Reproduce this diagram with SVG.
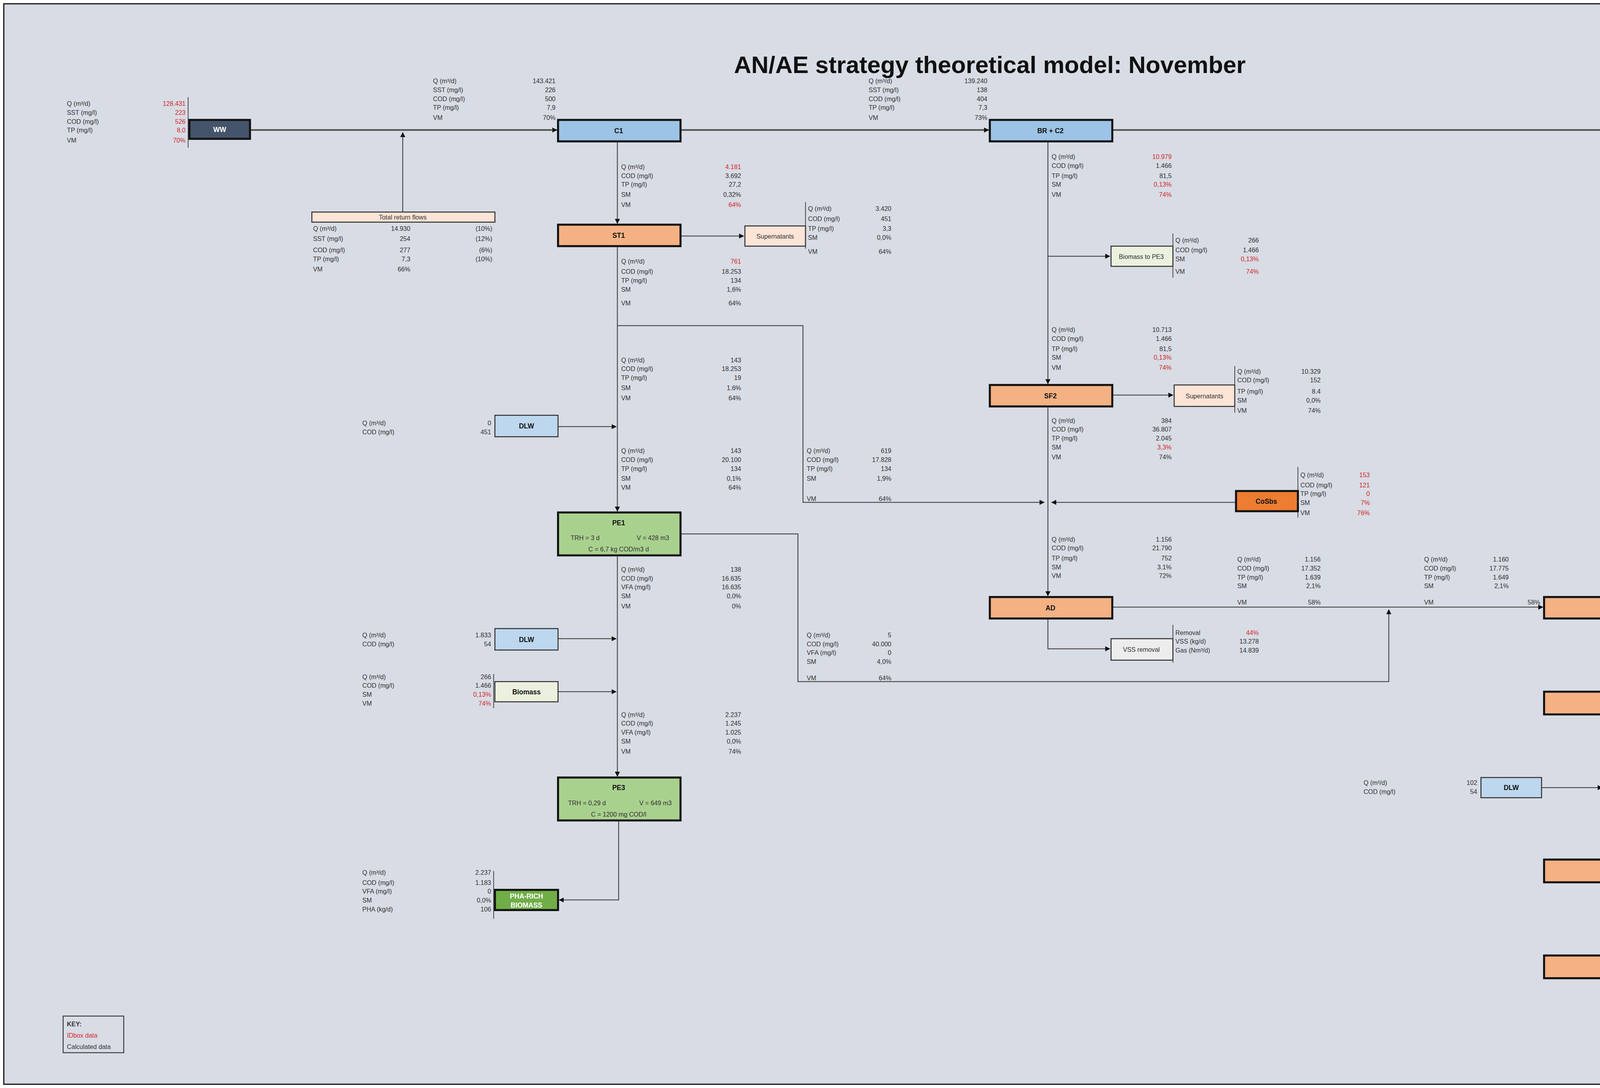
<svg xmlns="http://www.w3.org/2000/svg" width="5068" height="2786" viewBox="0 0 5068 2786">
<style>
text{font-family:"Liberation Sans",Arial,sans-serif;font-size:5px;fill:#333}
.v{text-anchor:end}
.r{fill:#d42a2a}
.n{font-weight:bold;text-anchor:middle;font-size:5.4px;fill:#111}
.w{fill:#fff}
.big{stroke:#111;stroke-width:1.6}
.sm{stroke:#333;stroke-width:0.8}
.c{fill:none;stroke:#444;stroke-width:0.7}
.cm{fill:none;stroke:#555;stroke-width:1.3}
.bar{stroke:#444;stroke-width:0.6}
</style>
<defs>
<marker id="a" viewBox="0 0 10 10" refX="9" refY="5" markerWidth="4" markerHeight="4" orient="auto" markerUnits="userSpaceOnUse"><path d="M0,0L10,5L0,10z" fill="#111"/></marker>
</defs>
<rect width="5068" height="2786" fill="#fff"/>
<g transform="scale(3.2321)">
<rect x="3" y="3" width="1562" height="856" fill="#d8dce5" stroke="#222" stroke-width="1"/>
<text x="784" y="58" style="font-size:19px;font-weight:bold;text-anchor:middle;fill:#111">AN/AE strategy theoretical model: November</text>

<g id="connectors" marker-end="url(#a)">
<path class="cm" d="M198 103H441"/>
<path class="c" d="M319 168V105"/>
<path class="cm" d="M539 103H783"/>
<path class="cm" d="M881 103H1271"/>
<path class="c" d="M489 112V177"/>
<path class="c" d="M539 187H589"/>
<path class="c" d="M489 195V405"/>
<path class="c" d="M489 258H636V398H827"/>
<path class="c" d="M442 338H488"/>
<path class="c" d="M979 398H833"/>
<path class="c" d="M830 112V304"/>
<path class="c" d="M830 203H879"/>
<path class="c" d="M881 313H929"/>
<path class="c" d="M830 322V472"/>
<path class="c" d="M539 423H632V540H1100V483"/>
<path class="c" d="M881 481H1222"/>
<path class="c" d="M830 490V514H879"/>
<path class="c" d="M1271 473V432H1369"/>
<path class="c" d="M1271 490V547"/>
<path class="c" d="M442 506H488"/>
<path class="c" d="M442 548H488"/>
<path class="c" d="M489 440V615"/>
<path class="c" d="M490 650V713H443"/>
<path class="c" d="M1271 566V680"/>
<path class="c" d="M1221 624H1269"/>
<path class="c" d="M1370 624H1273"/>
<path class="c" d="M1321 690H1369"/>
<path class="c" d="M1271 699V756"/>
<path class="c" d="M1321 766H1369"/>
<path class="c" d="M1271 775V824H1369"/>
</g>

<g id="bars">
<path class="bar" d="M149 77V117M1320 76V118M638 160V197M929 185V220M978 290V327M1028 370V410M929 495V525M1419 407V443M1419 598V638M1419 676V700M1419 740V778M1419 797V835M391 534V561M391 690V728"/>
</g>

<g id="WW"><rect x="150" y="95" width="48" height="15" fill="#44546a" class="big"/><text x="174" y="104.5" class="n w">WW</text></g>
<g id="C1"><rect x="442" y="95" width="97" height="17" fill="#9dc3e6" class="big"/><text x="490" y="105.5" class="n">C1</text></g>
<g id="BRC2"><rect x="784" y="95" width="97" height="17" fill="#9dc3e6" class="big"/><text x="832" y="105.5" class="n">BR + C2</text></g>
<g id="TW"><rect x="1272" y="95" width="47" height="15" fill="#5b9bd5" class="big"/><text x="1295" y="104.5" class="n w">TW</text></g>
<g id="TRF"><rect x="247" y="168" width="145" height="8" fill="#fce4d6" class="sm"/><text x="319" y="174" style="text-anchor:middle">Total return flows</text></g>
<g id="ST1"><rect x="442" y="178" width="97" height="17" fill="#f4b183" class="big"/><text x="490" y="188.5" class="n">ST1</text></g>
<g id="Sup1"><rect x="590" y="179" width="48" height="16" fill="#fce4d6" class="sm"/><text x="614" y="189" style="text-anchor:middle">Supernatants</text></g>
<g id="BioPE3"><rect x="880" y="195" width="49" height="16" fill="#ebf1de" class="sm"/><text x="904" y="205" style="text-anchor:middle">Biomass to PE3</text></g>
<g id="SF2"><rect x="784" y="305" width="97" height="17" fill="#f4b183" class="big"/><text x="832" y="315.5" class="n">SF2</text></g>
<g id="Sup2"><rect x="930" y="305" width="48" height="17" fill="#fce4d6" class="sm"/><text x="954" y="315.5" style="text-anchor:middle">Supernatants</text></g>
<g id="DLW1"><rect x="392" y="329" width="50" height="17" fill="#bdd7ee" class="sm"/><text x="417" y="339.5" class="n">DLW</text></g>
<g id="CoSbs1"><rect x="979" y="389" width="49" height="16" fill="#ed7d31" class="big"/><text x="1003" y="399" class="n">CoSbs</text></g>
<g id="PE1"><rect x="442" y="406" width="97" height="34" fill="#a9d18e" class="big"/><text x="490" y="416" class="n">PE1</text><text x="452" y="428">TRH = 3 d</text><text x="530" y="428" class="v">V = 428 m3</text><text x="490" y="437" style="text-anchor:middle">C = 6,7 kg COD/m3 d</text></g>
<g id="AD1"><rect x="784" y="473" width="97" height="17" fill="#f4b183" class="big"/><text x="832" y="483.5" class="n">AD</text></g>
<g id="VSS1"><rect x="880" y="506" width="49" height="17" fill="#ededed" class="sm"/><text x="904" y="516.5" style="text-anchor:middle">VSS removal</text></g>
<g id="DW1"><rect x="1223" y="473" width="98" height="17" fill="#f4b183" class="big"/><text x="1272" y="483.5" class="n">DW</text></g>
<g id="Drain1"><rect x="1370" y="423" width="49" height="17" fill="#fce4d6" class="sm"/><text x="1394" y="433.5" style="text-anchor:middle">Drain</text></g>
<g id="DLW2"><rect x="392" y="498" width="50" height="17" fill="#bdd7ee" class="sm"/><text x="417" y="508.5" class="n">DLW</text></g>
<g id="Biomass"><rect x="392" y="540" width="50" height="16" fill="#ebf1de" class="sm"/><text x="417" y="550" class="n">Biomass</text></g>
<g id="TH"><rect x="1223" y="548" width="98" height="18" fill="#f4b183" class="big"/><text x="1272" y="559" class="n">TH</text></g>
<g id="PE3"><rect x="442" y="616" width="97" height="34" fill="#a9d18e" class="big"/><text x="490" y="626" class="n">PE3</text><text x="450" y="638">TRH = 0,29 d</text><text x="532" y="638" class="v">V = 649 m3</text><text x="490" y="647" style="text-anchor:middle">C = 1200 mg COD/l</text></g>
<g id="DLW3"><rect x="1173" y="616" width="48" height="16" fill="#bdd7ee" class="sm"/><text x="1197" y="626" class="n">DLW</text></g>
<g id="CoSbs2"><rect x="1370" y="615" width="49" height="17" fill="#ed7d31" class="big"/><text x="1394" y="625.5" class="n">CoSbs</text></g>
<g id="AD2"><rect x="1223" y="681" width="98" height="18" fill="#f4b183" class="big"/><text x="1272" y="692" class="n">AD</text></g>
<g id="VSS2"><rect x="1370" y="682" width="49" height="17" fill="#ededed" class="sm"/><text x="1394" y="692.5" style="text-anchor:middle">VSS removal</text></g>
<g id="PHA"><rect x="392" y="705" width="50" height="16" fill="#70ad47" class="big"/><text x="417" y="712" class="n w">PHA-RICH</text><text x="417" y="719" class="n w">BIOMASS</text></g>
<g id="DW2"><rect x="1223" y="757" width="98" height="18" fill="#f4b183" class="big"/><text x="1272" y="768" class="n">DW</text></g>
<g id="Drain2"><rect x="1370" y="757" width="49" height="18" fill="#fce4d6" class="sm"/><text x="1394" y="768" style="text-anchor:middle">Drain</text></g>
<g id="DM"><rect x="1370" y="814" width="49" height="17" fill="#843c0c" class="big"/><text x="1394" y="824.5" class="n w">DM</text></g>
<g id="KEY"><rect x="50" y="805" width="48" height="29" fill="none" stroke="#333" stroke-width="0.7"/><text x="53" y="813" style="font-weight:bold">KEY:</text><text x="53" y="822" class="r">IDbox data</text><text x="53" y="831">Calculated data</text></g>

<g id="data">
<text x="53" y="84">Q (m³/d)</text><text x="147" y="84" class="v r">128.431</text>
<text x="53" y="91">SST (mg/l)</text><text x="147" y="91" class="v r">223</text>
<text x="53" y="98">COD (mg/l)</text><text x="147" y="98" class="v r">526</text>
<text x="53" y="105">TP (mg/l)</text><text x="147" y="105" class="v r">8,0</text>
<text x="53" y="113">VM</text><text x="147" y="113" class="v r">70%</text>

<text x="343" y="66">Q (m³/d)</text><text x="440" y="66" class="v">143.421</text>
<text x="343" y="73">SST (mg/l)</text><text x="440" y="73" class="v">226</text>
<text x="343" y="80">COD (mg/l)</text><text x="440" y="80" class="v">500</text>
<text x="343" y="87">TP (mg/l)</text><text x="440" y="87" class="v">7,9</text>
<text x="343" y="95">VM</text><text x="440" y="95" class="v">70%</text>

<text x="688" y="66">Q (m³/d)</text><text x="782" y="66" class="v">139.240</text>
<text x="688" y="73">SST (mg/l)</text><text x="782" y="73" class="v">138</text>
<text x="688" y="80">COD (mg/l)</text><text x="782" y="80" class="v">404</text>
<text x="688" y="87">TP (mg/l)</text><text x="782" y="87" class="v">7,3</text>
<text x="688" y="95">VM</text><text x="782" y="95" class="v">73%</text>

<text x="1322" y="84">Q (m³/d)</text><text x="1380" y="84" class="v">128.260</text>
<text x="1322" y="91">SST (mg/l)</text><text x="1380" y="91" class="v">23</text>
<text x="1322" y="98">COD (mg/l)</text><text x="1380" y="98" class="v">54</text>
<text x="1322" y="105">TP (mg/l)</text><text x="1380" y="105" class="v r">1,0</text>
<text x="1322" y="113">VM</text><text x="1380" y="113" class="v">74%</text>

<text x="248" y="183">Q (m³/d)</text><text x="325" y="183" class="v">14.930</text><text x="390" y="183" class="v">(10%)</text>
<text x="248" y="191">SST (mg/l)</text><text x="325" y="191" class="v">254</text><text x="390" y="191" class="v">(12%)</text>
<text x="248" y="200">COD (mg/l)</text><text x="325" y="200" class="v">277</text><text x="390" y="200" class="v">(6%)</text>
<text x="248" y="207">TP (mg/l)</text><text x="325" y="207" class="v">7,3</text><text x="390" y="207" class="v">(10%)</text>
<text x="248" y="215">VM</text><text x="325" y="215" class="v">66%</text>

<text x="492" y="134">Q (m³/d)</text><text x="587" y="134" class="v r">4.181</text>
<text x="492" y="141">COD (mg/l)</text><text x="587" y="141" class="v">3.692</text>
<text x="492" y="148">TP (mg/l)</text><text x="587" y="148" class="v">27,2</text>
<text x="492" y="156">SM</text><text x="587" y="156" class="v">0,32%</text>
<text x="492" y="164">VM</text><text x="587" y="164" class="v r">64%</text>

<text x="640" y="167">Q (m³/d)</text><text x="706" y="167" class="v">3.420</text>
<text x="640" y="175">COD (mg/l)</text><text x="706" y="175" class="v">451</text>
<text x="640" y="183">TP (mg/l)</text><text x="706" y="183" class="v">3,3</text>
<text x="640" y="190">SM</text><text x="706" y="190" class="v">0,0%</text>
<text x="640" y="201">VM</text><text x="706" y="201" class="v">64%</text>

<text x="492" y="209">Q (m³/d)</text><text x="587" y="209" class="v r">761</text>
<text x="492" y="217">COD (mg/l)</text><text x="587" y="217" class="v">18.253</text>
<text x="492" y="224">TP (mg/l)</text><text x="587" y="224" class="v">134</text>
<text x="492" y="231">SM</text><text x="587" y="231" class="v">1,6%</text>
<text x="492" y="242">VM</text><text x="587" y="242" class="v">64%</text>

<text x="492" y="287">Q (m³/d)</text><text x="587" y="287" class="v">143</text>
<text x="492" y="294">COD (mg/l)</text><text x="587" y="294" class="v">18.253</text>
<text x="492" y="301">TP (mg/l)</text><text x="587" y="301" class="v">19</text>
<text x="492" y="309">SM</text><text x="587" y="309" class="v">1.6%</text>
<text x="492" y="317">VM</text><text x="587" y="317" class="v">64%</text>

<text x="287" y="337">Q (m³/d)</text><text x="389" y="337" class="v">0</text>
<text x="287" y="344">COD (mg/l)</text><text x="389" y="344" class="v">451</text>

<text x="492" y="359">Q (m³/d)</text><text x="587" y="359" class="v">143</text>
<text x="492" y="366">COD (mg/l)</text><text x="587" y="366" class="v">20.100</text>
<text x="492" y="373">TP (mg/l)</text><text x="587" y="373" class="v">134</text>
<text x="492" y="381">SM</text><text x="587" y="381" class="v">0,1%</text>
<text x="492" y="388">VM</text><text x="587" y="388" class="v">64%</text>

<text x="639" y="359">Q (m³/d)</text><text x="706" y="359" class="v">619</text>
<text x="639" y="366">COD (mg/l)</text><text x="706" y="366" class="v">17.828</text>
<text x="639" y="373">TP (mg/l)</text><text x="706" y="373" class="v">134</text>
<text x="639" y="381">SM</text><text x="706" y="381" class="v">1,9%</text>
<text x="639" y="397">VM</text><text x="706" y="397" class="v">64%</text>

<text x="492" y="453">Q (m³/d)</text><text x="587" y="453" class="v">138</text>
<text x="492" y="460">COD (mg/l)</text><text x="587" y="460" class="v">16.635</text>
<text x="492" y="467">VFA (mg/l)</text><text x="587" y="467" class="v">16.635</text>
<text x="492" y="474">SM</text><text x="587" y="474" class="v">0,0%</text>
<text x="492" y="482">VM</text><text x="587" y="482" class="v">0%</text>

<text x="287" y="505">Q (m³/d)</text><text x="389" y="505" class="v">1.833</text>
<text x="287" y="512">COD (mg/l)</text><text x="389" y="512" class="v">54</text>

<text x="287" y="538">Q (m³/d)</text><text x="389" y="538" class="v">266</text>
<text x="287" y="545">COD (mg/l)</text><text x="389" y="545" class="v">1.466</text>
<text x="287" y="552">SM</text><text x="389" y="552" class="v r">0,13%</text>
<text x="287" y="559">VM</text><text x="389" y="559" class="v r">74%</text>

<text x="639" y="505">Q (m³/d)</text><text x="706" y="505" class="v">5</text>
<text x="639" y="512">COD (mg/l)</text><text x="706" y="512" class="v">40.000</text>
<text x="639" y="519">VFA (mg/l)</text><text x="706" y="519" class="v">0</text>
<text x="639" y="526">SM</text><text x="706" y="526" class="v">4,0%</text>
<text x="639" y="539">VM</text><text x="706" y="539" class="v">64%</text>

<text x="492" y="568">Q (m³/d)</text><text x="587" y="568" class="v">2.237</text>
<text x="492" y="575">COD (mg/l)</text><text x="587" y="575" class="v">1.245</text>
<text x="492" y="582">VFA (mg/l)</text><text x="587" y="582" class="v">1.025</text>
<text x="492" y="589">SM</text><text x="587" y="589" class="v">0,0%</text>
<text x="492" y="597">VM</text><text x="587" y="597" class="v">74%</text>

<text x="287" y="693">Q (m³/d)</text><text x="389" y="693" class="v">2.237</text>
<text x="287" y="701">COD (mg/l)</text><text x="389" y="701" class="v">1.183</text>
<text x="287" y="708">VFA (mg/l)</text><text x="389" y="708" class="v">0</text>
<text x="287" y="715">SM</text><text x="389" y="715" class="v">0,0%</text>
<text x="287" y="722">PHA (kg/d)</text><text x="389" y="722" class="v">106</text>

<text x="833" y="126">Q (m³/d)</text><text x="928" y="126" class="v r">10.979</text>
<text x="833" y="133">COD (mg/l)</text><text x="928" y="133" class="v">1.466</text>
<text x="833" y="141">TP (mg/l)</text><text x="928" y="141" class="v">81,5</text>
<text x="833" y="148">SM</text><text x="928" y="148" class="v r">0,13%</text>
<text x="833" y="156">VM</text><text x="928" y="156" class="v r">74%</text>

<text x="931" y="192">Q (m³/d)</text><text x="997" y="192" class="v">266</text>
<text x="931" y="200">COD (mg/l)</text><text x="997" y="200" class="v">1.466</text>
<text x="931" y="207">SM</text><text x="997" y="207" class="v r">0,13%</text>
<text x="931" y="217">VM</text><text x="997" y="217" class="v r">74%</text>

<text x="833" y="263">Q (m³/d)</text><text x="928" y="263" class="v">10.713</text>
<text x="833" y="270">COD (mg/l)</text><text x="928" y="270" class="v">1.466</text>
<text x="833" y="278">TP (mg/l)</text><text x="928" y="278" class="v">81,5</text>
<text x="833" y="285">SM</text><text x="928" y="285" class="v r">0,13%</text>
<text x="833" y="293">VM</text><text x="928" y="293" class="v r">74%</text>

<text x="980" y="296">Q (m³/d)</text><text x="1046" y="296" class="v">10.329</text>
<text x="980" y="303">COD (mg/l)</text><text x="1046" y="303" class="v">152</text>
<text x="980" y="312">TP (mg/l)</text><text x="1046" y="312" class="v">8.4</text>
<text x="980" y="319">SM</text><text x="1046" y="319" class="v">0,0%</text>
<text x="980" y="327">VM</text><text x="1046" y="327" class="v">74%</text>

<text x="833" y="335">Q (m³/d)</text><text x="928" y="335" class="v">384</text>
<text x="833" y="342">COD (mg/l)</text><text x="928" y="342" class="v">36.807</text>
<text x="833" y="349">TP (mg/l)</text><text x="928" y="349" class="v">2.045</text>
<text x="833" y="356">SM</text><text x="928" y="356" class="v r">3,3%</text>
<text x="833" y="364">VM</text><text x="928" y="364" class="v">74%</text>

<text x="1030" y="378">Q (m³/d)</text><text x="1085" y="378" class="v r">153</text>
<text x="1030" y="386">COD (mg/l)</text><text x="1085" y="386" class="v r">121</text>
<text x="1030" y="393">TP (mg/l)</text><text x="1085" y="393" class="v r">0</text>
<text x="1030" y="400">SM</text><text x="1085" y="400" class="v r">7%</text>
<text x="1030" y="408">VM</text><text x="1085" y="408" class="v r">76%</text>

<text x="833" y="429">Q (m³/d)</text><text x="928" y="429" class="v">1.156</text>
<text x="833" y="436">COD (mg/l)</text><text x="928" y="436" class="v">21.790</text>
<text x="833" y="444">TP (mg/l)</text><text x="928" y="444" class="v">752</text>
<text x="833" y="451">SM</text><text x="928" y="451" class="v">3.1%</text>
<text x="833" y="458">VM</text><text x="928" y="458" class="v">72%</text>

<text x="980" y="445">Q (m³/d)</text><text x="1046" y="445" class="v">1.156</text>
<text x="980" y="452">COD (mg/l)</text><text x="1046" y="452" class="v">17.352</text>
<text x="980" y="459">TP (mg/l)</text><text x="1046" y="459" class="v">1.639</text>
<text x="980" y="466">SM</text><text x="1046" y="466" class="v">2,1%</text>
<text x="980" y="479">VM</text><text x="1046" y="479" class="v">58%</text>

<text x="1128" y="445">Q (m³/d)</text><text x="1195" y="445" class="v">1.160</text>
<text x="1128" y="452">COD (mg/l)</text><text x="1195" y="452" class="v">17.775</text>
<text x="1128" y="459">TP (mg/l)</text><text x="1195" y="459" class="v">1.649</text>
<text x="1128" y="466">SM</text><text x="1195" y="466" class="v">2,1%</text>
<text x="1128" y="479">VM</text><text x="1220" y="479" class="v">58%</text>

<text x="931" y="503">Removal</text><text x="997" y="503" class="v r">44%</text>
<text x="931" y="510">VSS (kg/d)</text><text x="997" y="510" class="v">13.278</text>
<text x="931" y="517">Gas (Nm³/d)</text><text x="997" y="517" class="v">14.839</text>

<text x="1421" y="411">Q (m³/d)</text><text x="1515" y="411" class="v">986</text>
<text x="1421" y="418">COD (mg/l)</text><text x="1515" y="418" class="v">851</text>
<text x="1421" y="426">TP (mg/l)</text><text x="1515" y="426" class="v">79,0</text>
<text x="1421" y="433">SM</text><text x="1515" y="433" class="v r">0,1%</text>
<text x="1421" y="441">VM</text><text x="1515" y="441" class="v">59%</text>

<text x="1274" y="504">Q (m³/d)</text><text x="1340" y="504" class="v">167</text>
<text x="1274" y="511">COD (mg/l)</text><text x="1340" y="511" class="v">118.234</text>
<text x="1274" y="519">TP (mg/l)</text><text x="1340" y="519" class="v">10.969</text>
<text x="1274" y="526">SM</text><text x="1340" y="526" class="v r">14%</text>
<text x="1274" y="534">VM</text><text x="1340" y="534" class="v">58%</text>

<text x="1274" y="584">Q (m³/d)</text><text x="1340" y="584" class="v">190</text>
<text x="1274" y="591">COD (mg/l)</text><text x="1340" y="591" class="v">103.878</text>
<text x="1274" y="598">TP (mg/l)</text><text x="1340" y="598" class="v">9.637</text>
<text x="1274" y="606">SM</text><text x="1340" y="606" class="v">12%</text>
<text x="1274" y="613">VM</text><text x="1340" y="613" class="v">58%</text>

<text x="1080" y="622">Q (m³/d)</text><text x="1170" y="622" class="v">102</text>
<text x="1080" y="629">COD (mg/l)</text><text x="1170" y="629" class="v">54</text>

<text x="1421" y="605">Q (m³/d)</text><text x="1515" y="605" class="v r">46</text>
<text x="1421" y="612">COD (mg/l)</text><text x="1515" y="612" class="v r">72</text>
<text x="1421" y="621">TP (mg/l)</text><text x="1515" y="621" class="v r">0</text>
<text x="1421" y="628">SM</text><text x="1515" y="628" class="v r">8%</text>
<text x="1421" y="636">VM</text><text x="1515" y="636" class="v r">73%</text>

<text x="1274" y="641">Q (m³/d)</text><text x="1340" y="641" class="v">339</text>
<text x="1274" y="648">COD (mg/l)</text><text x="1340" y="648" class="v">58.406</text>
<text x="1274" y="656">TP (mg/l)</text><text x="1340" y="656" class="v">5.416</text>
<text x="1274" y="663">SM</text><text x="1340" y="663" class="v r">8%</text>
<text x="1274" y="670">VM</text><text x="1340" y="670" class="v">60%</text>

<text x="1421" y="681">Removal</text><text x="1515" y="681" class="v">22%</text>
<text x="1421" y="689">VSS (kg/d)</text><text x="1515" y="689" class="v">3.560</text>
<text x="1421" y="696">Gas (Nm³/d)</text><text x="1515" y="696" class="v">4.684</text>

<text x="1274" y="721">Q (m³/d)</text><text x="1340" y="721" class="v">339</text>
<text x="1274" y="729">COD (mg/l)</text><text x="1340" y="729" class="v">53.547</text>
<text x="1274" y="736">TP (mg/l)</text><text x="1340" y="736" class="v">6.388</text>
<text x="1274" y="743">SM</text><text x="1340" y="743" class="v">6,9%</text>
<text x="1274" y="751">VM</text><text x="1340" y="751" class="v">54%</text>

<text x="1421" y="746">Q (m³/d)</text><text x="1515" y="746" class="v">260</text>
<text x="1421" y="753">COD (mg/l)</text><text x="1515" y="753" class="v">771</text>
<text x="1421" y="762">TP (mg/l)</text><text x="1515" y="762" class="v">91,9</text>
<text x="1421" y="769">SM</text><text x="1515" y="769" class="v r">0,1%</text>
<text x="1421" y="777">VM</text><text x="1515" y="777" class="v">54%</text>

<text x="1421" y="804">Q (m³/d)</text><text x="1515" y="804" class="v">78</text>
<text x="1421" y="811">COD (mg/l)</text><text x="1515" y="811" class="v">231.153</text>
<text x="1421" y="818">TP (mg/l)</text><text x="1515" y="818" class="v">27.576</text>
<text x="1421" y="826">SM</text><text x="1515" y="826" class="v r">30%</text>
<text x="1421" y="834">VM</text><text x="1515" y="834" class="v">54%</text>
</g>
</g>
</svg>
